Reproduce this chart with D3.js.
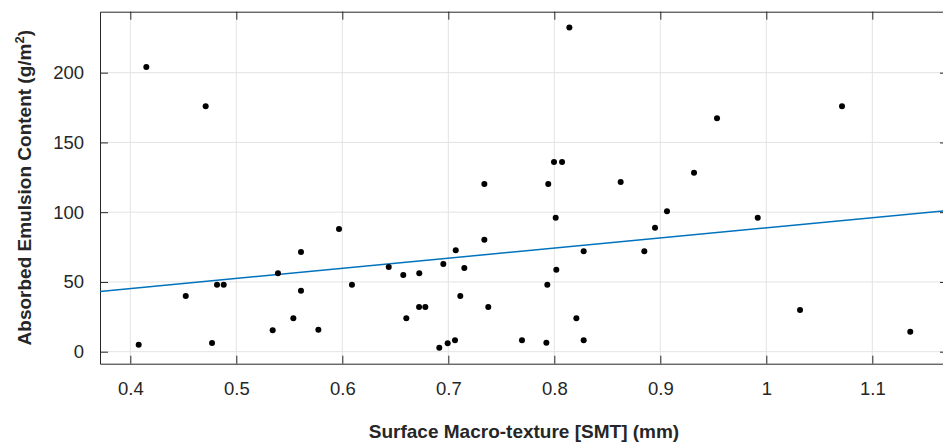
<!DOCTYPE html>
<html>
<head>
<meta charset="utf-8">
<script src="https://cdn.jsdelivr.net/npm/d3@7"></script>
<style>
  html, body { margin: 0; padding: 0; background: #fff; }
  svg { display: block; font-family: "Liberation Sans", Arial, Helvetica, sans-serif; }
</style>
</head>
<body>
<svg id="chart" width="943" height="446"></svg>
<script>
// Surface macro-texture (mm) of each sample
const smt = [
  0.4151, 0.4711, 0.8142, 0.7997, 0.8073, 0.7340, 0.7943, 0.8626,
  0.9535, 1.0714, 0.9318,
  0.4079, 0.4523, 0.4771, 0.4818, 0.4881, 0.5343, 0.5393, 0.5538,
  0.5610, 0.5610, 0.5774, 0.5969, 0.6091,
  0.6438, 0.6575, 0.6726, 0.6604, 0.6724, 0.6783, 0.6915, 0.6953,
  0.6994, 0.7063, 0.7070, 0.7113, 0.7151, 0.7340, 0.7377, 0.7695,
  0.7925, 0.7934, 0.8013, 0.8019, 0.8208, 0.8277, 0.8277, 0.8849,
  0.8950,
  0.9063, 0.9919, 1.0318, 1.1358
];
// Absorbed emulsion content (g/m²) of each sample
const emulsion = [
  204.1, 175.9, 232.3, 136.0, 136.0, 120.2, 120.2, 121.6,
  167.3, 175.9, 128.3,
  5.0, 39.9, 6.2, 48.0, 48.0, 15.3, 56.2, 23.9,
  71.5, 43.7, 15.8, 88.0, 48.0,
  60.7, 55.0, 56.2, 23.9, 32.0, 32.0, 2.9, 62.9,
  6.0, 8.2, 72.7, 39.9, 60.0, 80.3, 32.0, 8.2,
  6.5, 48.0, 96.1, 58.8, 23.9, 72.0, 8.2, 72.0,
  88.9,
  100.6, 96.1, 29.9, 14.3
];

const xTicks = [0.4, 0.5, 0.6, 0.7, 0.8, 0.9, 1.0, 1.1];
const xTickLabels = ["0.4", "0.5", "0.6", "0.7", "0.8", "0.9", "1", "1.1"];
const yTicks = [0, 50, 100, 150, 200];
const xLimits = [0.3714, 1.1714];
const yLimits = [-8.6, 243.7];

// Linear trend line: emulsion = slope * smt + intercept
const fitSlope = 72.6;
const fitIntercept = 16.2;

const xLabel = "Surface Macro-texture [SMT] (mm)";

const svg = d3.select("#chart");
const plot = { left: 100, right: 948, top: 11.7, bottom: 363.7 };

const x = d3.scaleLinear().domain(xLimits).range([plot.left, plot.right]);
const y = d3.scaleLinear().domain(yLimits).range([plot.bottom, plot.top]);

const axisColor = "#262626";
const gridColor = "#e3e3e3";
const tickLen = 8;

// grid
const grid = svg.append("g");
grid.selectAll("line.gx").data(xTicks).join("line")
  .attr("x1", d => x(d)).attr("x2", d => x(d))
  .attr("y1", plot.top).attr("y2", plot.bottom)
  .attr("stroke", gridColor).attr("stroke-width", 1);
grid.selectAll("line.gy").data(yTicks).join("line")
  .attr("x1", plot.left).attr("x2", plot.right)
  .attr("y1", d => y(d)).attr("y2", d => y(d))
  .attr("stroke", gridColor).attr("stroke-width", 1);

// axes with inward ticks on all four sides
const fmtX = d => xTickLabels[xTicks.indexOf(d)];
const bottomAxis = d3.axisBottom(x).tickValues(xTicks).tickFormat(fmtX).tickSizeInner(-tickLen).tickSizeOuter(0).tickPadding(18);
const leftAxis = d3.axisLeft(y).tickValues(yTicks).tickSizeInner(-tickLen).tickSizeOuter(0).tickPadding(16);
const topAxis = d3.axisTop(x).tickValues(xTicks).tickFormat("").tickSizeInner(-tickLen).tickSizeOuter(0);
const rightAxis = d3.axisRight(y).tickValues(yTicks).tickFormat("").tickSizeInner(-tickLen).tickSizeOuter(0);

function styleAxis(g) {
  g.select(".domain").attr("stroke", axisColor).attr("stroke-width", 1);
  g.selectAll(".tick line").attr("stroke", axisColor).attr("stroke-width", 1);
  g.selectAll(".tick text").attr("fill", axisColor)
    .style("font-size", "18.5px").style("font-family", "'Liberation Sans', Arial, sans-serif");
}

svg.append("g").attr("transform", `translate(0,${plot.bottom})`).call(bottomAxis).call(styleAxis);
svg.append("g").attr("transform", `translate(${plot.left},0)`).call(leftAxis).call(styleAxis);
svg.append("g").attr("transform", `translate(0,${plot.top})`).call(topAxis).call(styleAxis);
svg.append("g").attr("transform", `translate(${plot.right},0)`).call(rightAxis).call(styleAxis);

// trend line
svg.append("clipPath").attr("id", "plotclip").append("rect")
  .attr("x", plot.left).attr("y", plot.top)
  .attr("width", plot.right - plot.left).attr("height", plot.bottom - plot.top);

svg.append("line")
  .attr("clip-path", "url(#plotclip)")
  .attr("x1", x(xLimits[0])).attr("y1", y(fitSlope * xLimits[0] + fitIntercept))
  .attr("x2", x(xLimits[1])).attr("y2", y(fitSlope * xLimits[1] + fitIntercept))
  .attr("stroke", "#0072BD").attr("stroke-width", 1.5);

// data points
svg.append("g").selectAll("circle").data(d3.zip(smt, emulsion)).join("circle")
  .attr("cx", d => x(d[0])).attr("cy", d => y(d[1]))
  .attr("r", 3).attr("fill", "#000");

// axis titles
svg.append("text")
  .attr("x", (plot.left + plot.right) / 2).attr("y", 438)
  .attr("text-anchor", "middle")
  .attr("fill", axisColor)
  .style("font-size", "19px").style("font-weight", "bold")
  .text(xLabel);

const yTitle = svg.append("text")
  .attr("transform", `translate(30.5,${(plot.top + plot.bottom) / 2}) rotate(-90)`)
  .attr("text-anchor", "middle")
  .attr("fill", axisColor)
  .style("font-size", "19px").style("font-weight", "bold");
yTitle.append("tspan").text("Absorbed Emulsion Content (g/m");
yTitle.append("tspan").attr("dy", -7).style("font-size", "13px").text("2");
yTitle.append("tspan").attr("dy", 7).text(")");
</script>
</body>
</html>
